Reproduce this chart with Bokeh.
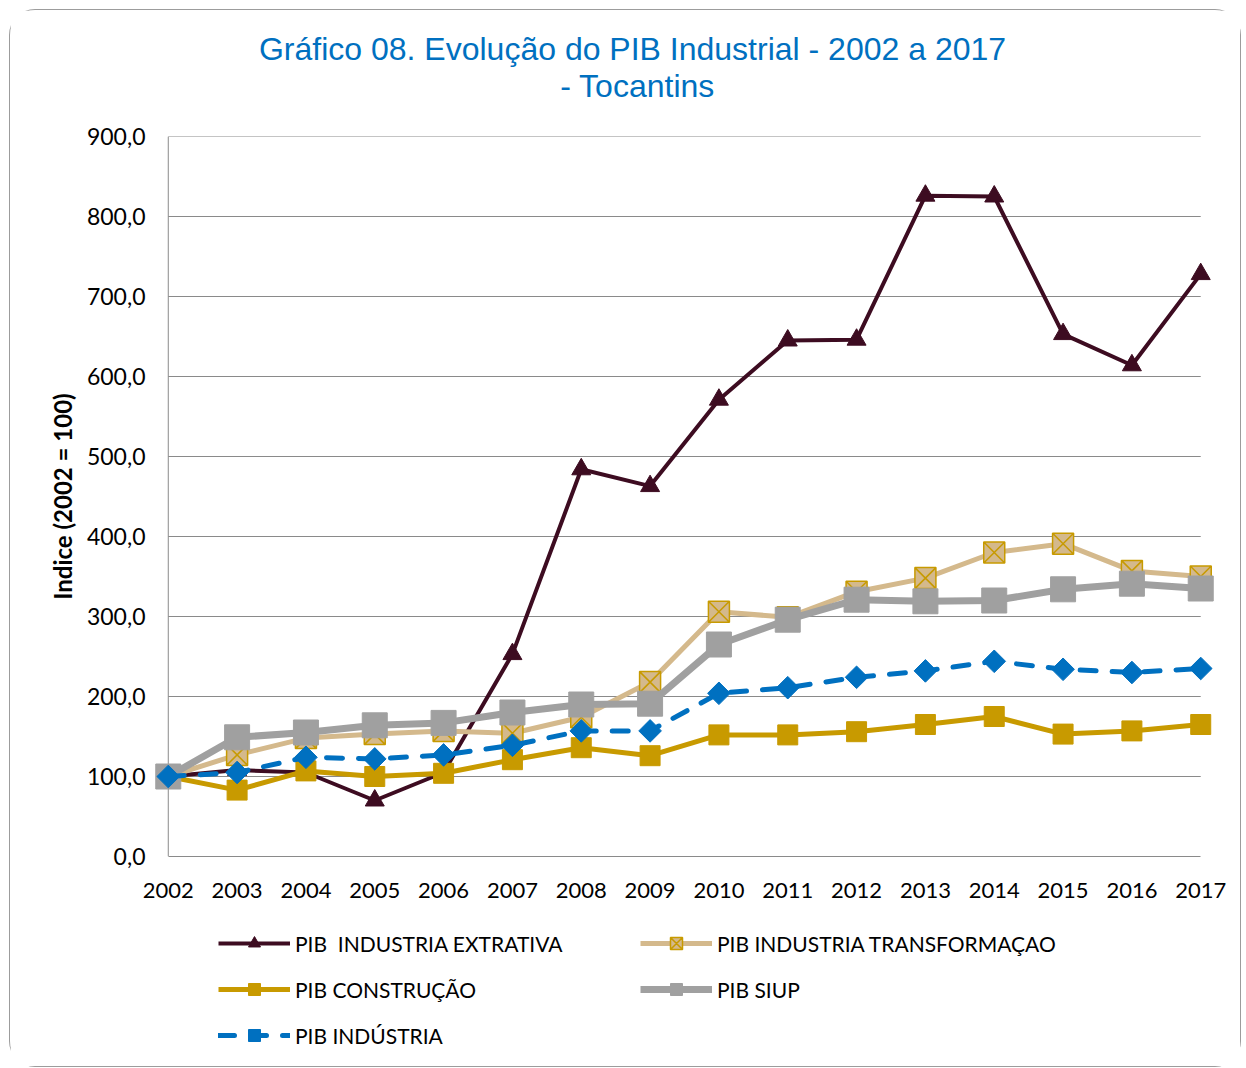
from bokeh.plotting import figure
from bokeh.layouts import column
from bokeh.models import (Range1d, FixedTicker, Legend, LegendItem, Label)
from bokeh.embed import file_html
from bokeh.resources import INLINE
import numpy as np

years = list(range(2002, 2018))
extrativa = [100, 108, 105, 70, 105, 253, 484, 463, 571, 645, 646, 826, 825, 653, 614, 728]
transformacao = [100, 127, 148, 153, 157, 154, 174, 218, 306, 299, 331, 348, 380, 391, 357, 350]
construcao = [100, 83, 107, 100, 104, 121, 136, 126, 152, 152, 156, 165, 175, 153, 157, 165]
siup = [100, 149, 155, 164, 167, 180, 190, 191, 265, 296, 321, 319, 320, 334, 341, 335]
industria = [100, 105, 124, 122, 127, 139, 157, 157, 204, 211, 224, 232, 244, 234, 230, 235]

y_ticks = [0, 100, 200, 300, 400, 500, 600, 700, 800, 900]
y_tick_labels = {v: f"{v},0" for v in y_ticks}
legend_labels = ["PIB  INDUSTRIA EXTRATIVA", "PIB INDUSTRIA TRANSFORMAÇAO",
                 "PIB CONSTRUÇÃO", "PIB SIUP", "PIB INDÚSTRIA"]
title_line1 = "Gráfico 08. Evolução do PIB Industrial - 2002 a 2017"
title_line2 = "- Tocantins"
y_label = "Indice (2002 = 100)"

FONT = "Lato"
W = 1230

# ---------------- title strip ----------------
pt = figure(width=W, height=106, output_backend="svg", toolbar_location=None,
            x_range=Range1d(0, 1), y_range=Range1d(0, 1),
            x_axis_type=None, y_axis_type=None,
            min_border_left=0, min_border_right=0, min_border_top=0, min_border_bottom=0)
pt.outline_line_color = None
pt.grid.visible = False
for txt, xx, yy in ((title_line1, 478, 68), (title_line2, 483, 31)):
    pt.add_layout(Label(x=xx, y=yy, x_units="screen", y_units="screen", text=txt,
                        text_align="center", text_baseline="middle",
                        text_font="Liberation Sans", text_font_size="32px",
                        text_color="#0070C0"))

# ---------------- main plot ----------------
p = figure(width=W, height=800, output_backend="svg", toolbar_location=None,
           x_range=Range1d(years[0] - 0.2, years[-1] + 0.2), y_range=Range1d(0, 900),
           min_border_left=144, min_border_right=26, min_border_top=20,
           min_border_bottom=60)
p.outline_line_color = None
p.background_fill_color = "white"
p.border_fill_color = "white"

p.yaxis.ticker = FixedTicker(ticks=y_ticks)
p.yaxis.major_label_overrides = y_tick_labels
p.xaxis.ticker = FixedTicker(ticks=years)
p.xaxis.major_label_overrides = {y: str(y) for y in years}
p.xaxis.bounds = (years[0], years[-1])
for ax in (p.xaxis, p.yaxis):
    ax.axis_line_color = "#8a8a8a"
    ax.axis_line_width = 1
    ax.major_tick_out = 0
    ax.major_tick_in = 0
    ax.minor_tick_out = 0
    ax.minor_tick_in = 0
    ax.major_label_text_font = FONT
    ax.major_label_text_color = "black"
p.yaxis.axis_line_color = None
p.xaxis.major_label_text_font_size = "22px"
p.yaxis.major_label_text_font_size = "23px"
p.yaxis.major_label_standoff = 9
p.xaxis.major_label_standoff = 26
p.yaxis.axis_label = y_label
p.yaxis.axis_label_text_font = FONT
p.yaxis.axis_label_text_font_size = "24px"
p.yaxis.axis_label_text_font_style = "bold"
p.yaxis.axis_label_text_color = "black"
p.yaxis.axis_label_standoff = 7

p.xgrid.grid_line_color = None
p.ygrid.grid_line_color = None
# gridlines spanning first to last year, and the vertical axis line
p.segment(x0=years[0], x1=years[-1], y0=y_ticks[1:], y1=y_ticks[1:],
          line_color="#8a8a8a", line_width=1)
p.segment(x0=[years[0]], x1=[years[0]], y0=[y_ticks[0]], y1=[y_ticks[-1]],
          line_color="#8a8a8a", line_width=1)


def draw(fig):
    r = {}
    r["ex"] = (fig.line(years, extrativa, line_color="#3D0C21", line_width=4),
               fig.scatter(years, extrativa, marker="triangle", size=19,
                           fill_color="#3D0C21", line_color="#3D0C21"))
    r["tr"] = (fig.line(years, transformacao, line_color="#D4B98C", line_width=5),
               fig.scatter(years, transformacao, marker="square_x", size=21,
                           fill_color="#D4B98C", line_color="#C79A00", line_width=1.5))
    r["co"] = (fig.line(years, construcao, line_color="#C89A00", line_width=5),
               fig.scatter(years, construcao, marker="square", size=20,
                           fill_color="#C89A00", line_color="#C89A00"))
    r["si"] = (fig.line(years, siup, line_color="#A0A0A0", line_width=7),
               fig.scatter(years, siup, marker="square", size=25,
                           fill_color="#A0A0A0", line_color="#A0A0A0"))
    r["in"] = (fig.line(years, industria, line_color="#0070C0", line_width=5,
                        line_dash="16 16", line_cap="round"),
               fig.scatter(years, industria, marker="square", size=16, angle=np.pi / 4,
                           fill_color="#0070C0", line_color="#0070C0"))
    return r


draw(p)

# ---------------- legend strip ----------------
pl = figure(width=W, height=150, output_backend="svg", toolbar_location=None,
            x_range=Range1d(0, 1), y_range=Range1d(0, 1),
            x_axis_type=None, y_axis_type=None,
            min_border_left=0, min_border_right=0, min_border_top=0, min_border_bottom=0)
pl.outline_line_color = None
pl.grid.visible = False
rl = draw(pl)  # same series, outside this strip's ranges; used for legend glyphs
items = [
    LegendItem(label=legend_labels[0], renderers=list(rl["ex"])),
    LegendItem(label=legend_labels[1], renderers=list(rl["tr"])),
    LegendItem(label=legend_labels[2], renderers=list(rl["co"])),
    LegendItem(label=legend_labels[3], renderers=list(rl["si"])),
    LegendItem(label=legend_labels[4], renderers=list(rl["in"])),
]
legend = Legend(items=items, location=(64, 16), orientation="horizontal", ncols=2,
                glyph_width=72, glyph_height=30, label_height=30, label_width=329,
                label_standoff=5, spacing=16, padding=0, margin=0,
                border_line_color=None, background_fill_alpha=0,
                label_text_font=FONT, label_text_font_size="21px", label_text_color="black")
pl.add_layout(legend, "center")

layout = column(pt, p, pl, spacing=0,
                styles={"border": "1px solid #9c9c9c", "border-radius": "26px",
                        "margin-left": "9px", "margin-top": "9px"})

open("out.html", "w").write(file_html(layout, INLINE))
